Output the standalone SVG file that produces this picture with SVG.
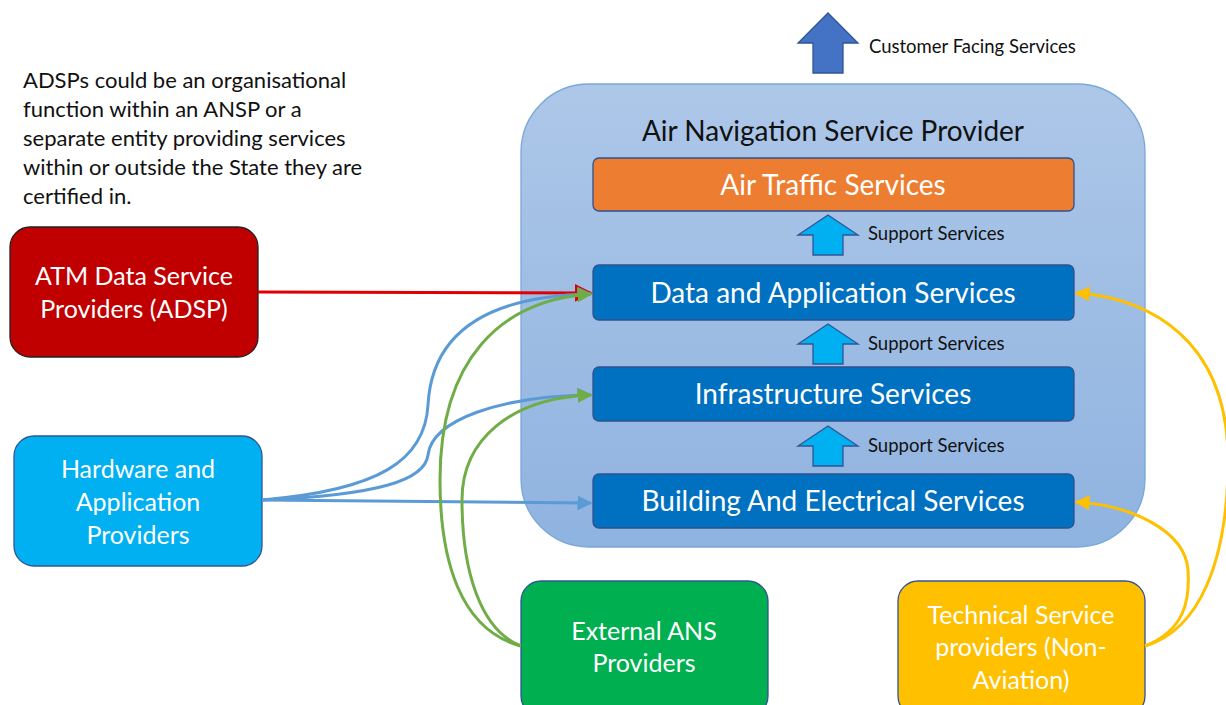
<svg xmlns="http://www.w3.org/2000/svg" width="1226" height="705" viewBox="0 0 1226 705">
<defs>
<linearGradient id="cg" x1="0" y1="0" x2="0" y2="1">
<stop offset="0" stop-color="#adc7e8"/>
<stop offset="1" stop-color="#8fb3e0"/>
</linearGradient>
<marker id="ar" viewBox="0 0 10 10" refX="9" refY="5" markerWidth="6" markerHeight="6" orient="auto" markerUnits="strokeWidth"><path d="M0,0 L10,5 L0,10 z" fill="#e00000"/></marker>
<marker id="ab" viewBox="0 0 10 10" refX="9" refY="5" markerWidth="5" markerHeight="5" orient="auto" markerUnits="strokeWidth"><path d="M0,0 L10,5 L0,10 z" fill="#5b9bd5"/></marker>
<marker id="ag" viewBox="0 0 10 10" refX="9" refY="5" markerWidth="5" markerHeight="5" orient="auto" markerUnits="strokeWidth"><path d="M0,0 L10,5 L0,10 z" fill="#70ad47"/></marker>
<marker id="ay" viewBox="0 0 10 10" refX="9" refY="5" markerWidth="5" markerHeight="5" orient="auto" markerUnits="strokeWidth"><path d="M0,0 L10,5 L0,10 z" fill="#ffc000"/></marker>
</defs>
<style>
text{font-family:Lato,"Open Sans","Liberation Sans",sans-serif}
.w{fill:#fff;font-size:25px;text-anchor:middle}
.L{fill:#fff;font-size:28px;text-anchor:middle}
.lay{stroke:#2f528f;stroke-width:1.3}
.sa{fill:#00b0f0;stroke:#2f5597;stroke-width:1.3}
.sl{font-size:18.5px;fill:#111}
.c{fill:none;stroke-width:3}
</style>

<g id="container">
<rect x="521" y="84" width="624" height="463" rx="68" fill="url(#cg)" stroke="#7ba6d9" stroke-width="1.3"/>
<text x="833" y="141" text-anchor="middle" font-size="28" fill="#111">Air Navigation Service Provider</text>
</g>

<g id="customer-arrow">
<path d="M828,13 L858,43 L843,43 L843,73 L813,73 L813,43 L798,43 z" fill="#4472c4" stroke="#2f5597" stroke-width="1.3"/>
<text x="869" y="53" font-size="18.5" fill="#111">Customer Facing Services</text>
</g>

<g id="note">
<text font-size="22" fill="#111">
<tspan x="23" y="88">ADSPs could be an organisational</tspan>
<tspan x="23" y="117">function within an ANSP or a</tspan>
<tspan x="23" y="146">separate entity providing services</tspan>
<tspan x="23" y="175">within or outside the State they are</tspan>
<tspan x="23" y="204">certified in.</tspan>
</text>
</g>

<g id="air-traffic">
<rect class="lay" x="593" y="158" width="481" height="53" rx="6" fill="#ed7d31"/>
<text class="L" x="833" y="195">Air Traffic Services</text>
</g>
<g id="support1">
<path class="sa" d="M828,215 L858,235 L843,235 L843,255 L813,255 L813,235 L798,235 z"/>
<text class="sl" x="868" y="240">Support Services</text>
</g>
<g id="data-app">
<rect class="lay" x="593" y="265" width="481" height="55" rx="6" fill="#0070c0"/>
<text class="L" x="833" y="303">Data and Application Services</text>
</g>
<g id="support2">
<path class="sa" d="M828,324 L858,344 L843,344 L843,364 L813,364 L813,344 L798,344 z"/>
<text class="sl" x="868" y="350">Support Services</text>
</g>
<g id="infra">
<rect class="lay" x="593" y="367" width="481" height="54" rx="6" fill="#0070c0"/>
<text class="L" x="833" y="404">Infrastructure Services</text>
</g>
<g id="support3">
<path class="sa" d="M828,426 L858,446 L843,446 L843,466 L813,466 L813,446 L798,446 z"/>
<text class="sl" x="868" y="452">Support Services</text>
</g>
<g id="building">
<rect class="lay" x="593" y="474" width="481" height="54" rx="6" fill="#0070c0"/>
<text class="L" x="833" y="511">Building And Electrical Services</text>
</g>

<g id="adsp">
<rect x="10" y="227" width="248" height="130" rx="20" fill="#c00000" stroke="#222" stroke-width="1.3"/>
<text class="w" x="134" y="285" font-size="24.5">ATM Data Service</text>
<text class="w" x="134" y="318" font-size="24.5">Providers (ADSP)</text>
</g>
<g id="hardware">
<rect x="14" y="436" width="248" height="130" rx="20" fill="#00b0f0" stroke="#2f5597" stroke-width="1.3"/>
<text class="w" x="138" y="478">Hardware and</text>
<text class="w" x="138" y="511">Application</text>
<text class="w" x="138" y="544">Providers</text>
</g>
<g id="external">
<rect x="521" y="581" width="247" height="135" rx="20" fill="#00b050" stroke="#2f5597" stroke-width="1.3"/>
<text class="w" x="644" y="640">External ANS</text>
<text class="w" x="644" y="672">Providers</text>
</g>
<g id="technical">
<rect x="898" y="581" width="247" height="135" rx="20" fill="#ffc000" stroke="#2f5597" stroke-width="1.3"/>
<text class="w" x="1021" y="624">Technical Service</text>
<text class="w" x="1021" y="656">providers (Non-</text>
<text class="w" x="1021" y="689">Aviation)</text>
</g>

<g id="connectors">
<path class="c" stroke="#e00000" stroke-width="2" d="M258,292 L591,293" marker-end="url(#ar)"/>
<path class="c" stroke="#5b9bd5" d="M262,500 C380,490 425,460 428,405 C432,330 490,296 591,294" marker-end="url(#ab)"/>
<path class="c" stroke="#5b9bd5" d="M262,500 C380,495 425,480 428,455 C432,420 500,396 591,395" marker-end="url(#ab)"/>
<path class="c" stroke="#5b9bd5" d="M262,500 L591,503" marker-end="url(#ab)"/>
<path class="c" stroke="#70ad47" d="M521,646 C460,630 440,560 440,480 C440,360 500,300 591,294" marker-end="url(#ag)"/>
<path class="c" stroke="#70ad47" d="M521,646 C480,630 462,570 462,500 C462,440 510,398 591,395" marker-end="url(#ag)"/>
<path class="c" stroke="#ffc000" d="M1145,646 C1200,630 1228,560 1228,460 C1228,340 1150,298 1076,293" marker-end="url(#ay)"/>
<path class="c" stroke="#ffc000" d="M1145,646 C1185,630 1190,600 1188,570 C1185,530 1130,505 1076,502" marker-end="url(#ay)"/>
</g>
</svg>
